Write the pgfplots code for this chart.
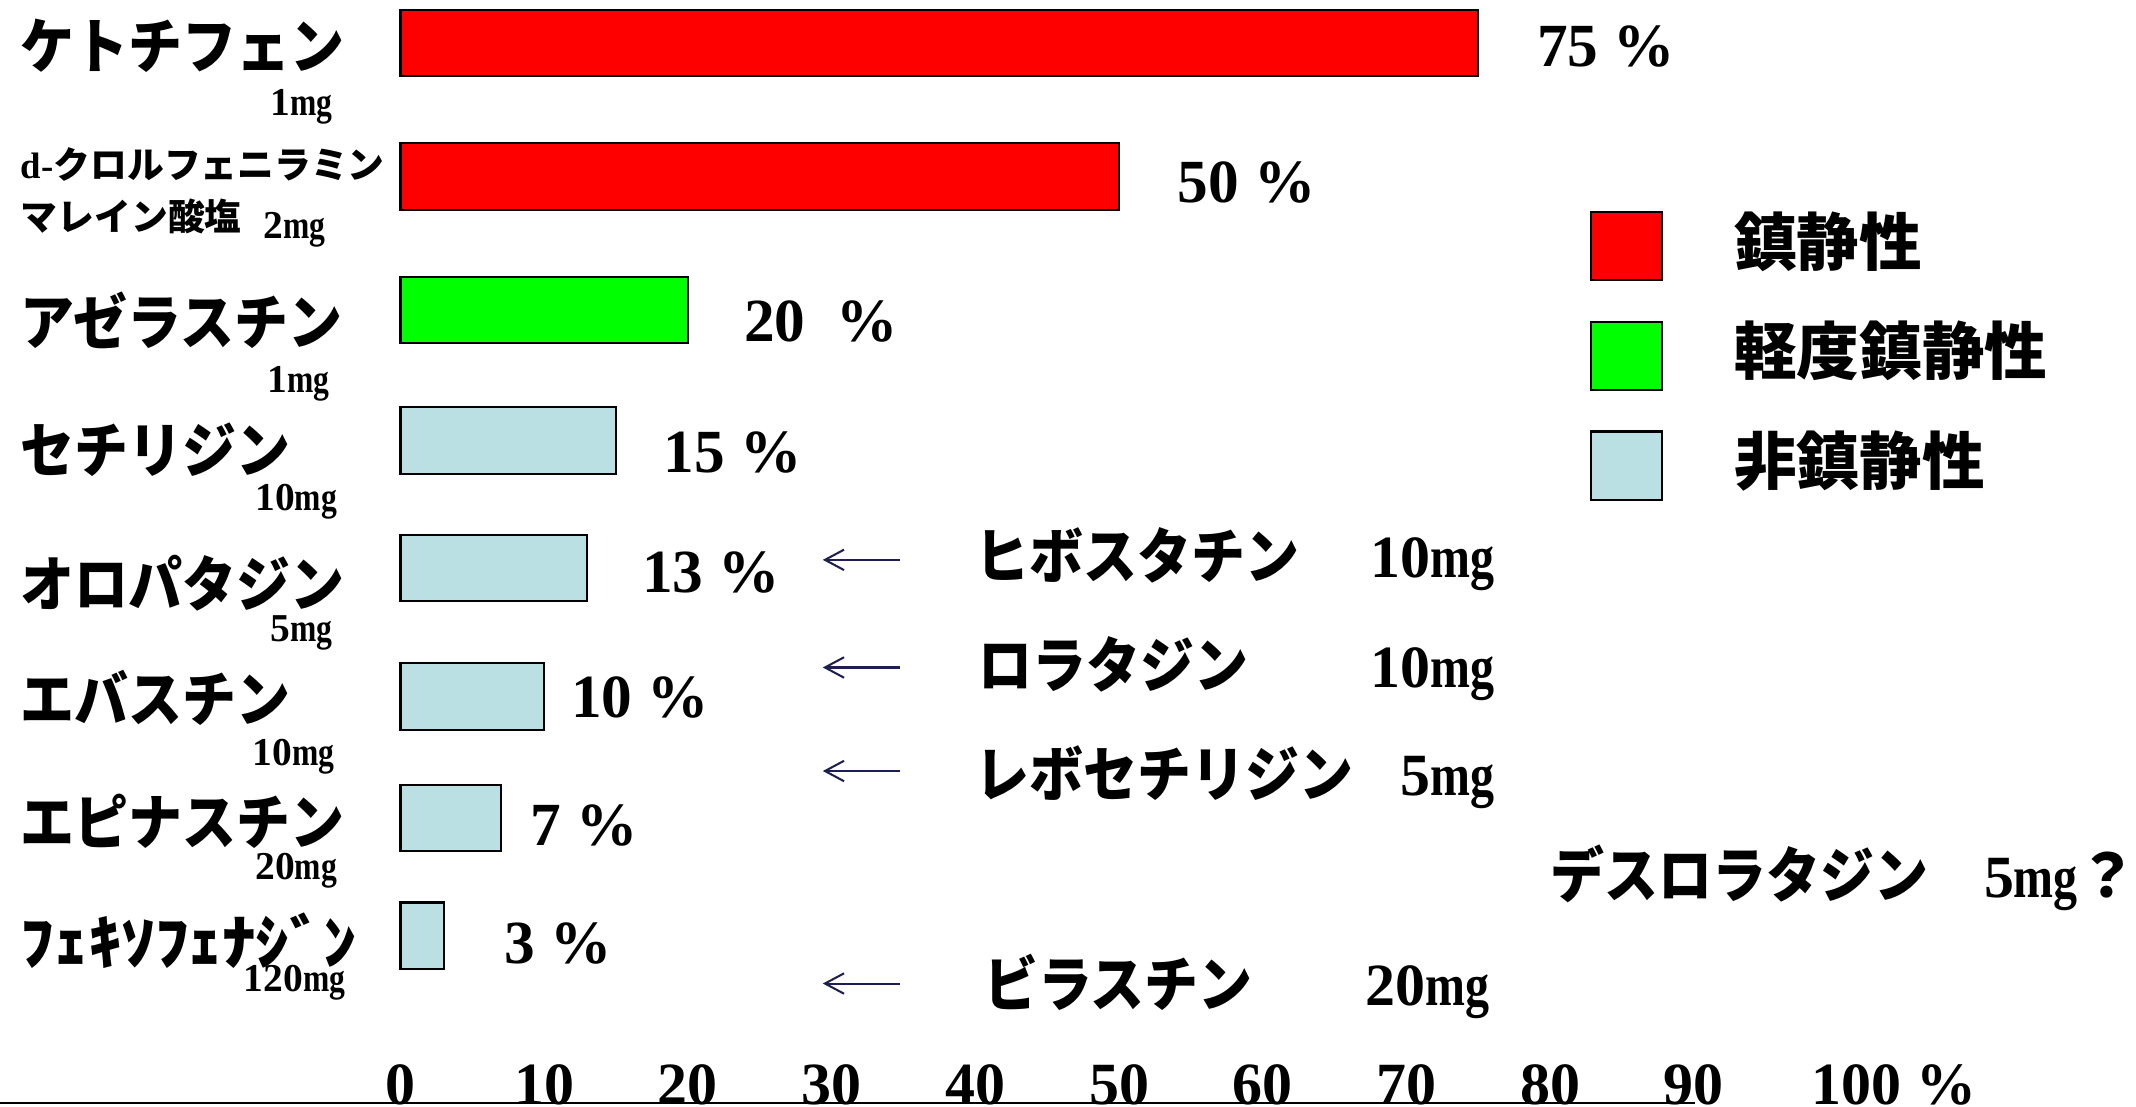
\documentclass[border=0pt]{standalone}
\usepackage{fontspec}
\usepackage{graphicx}
\usepackage{pgfplots}
\pgfplotsset{compat=1.18}
\usetikzlibrary{arrows.meta}
\setmainfont{Liberation Serif}
\newfontfamily\jp{Noto Sans CJK JP}[FakeStretch=0.9]
\newfontfamily\jpw{Noto Sans CJK JP}

\definecolor{sed}{RGB}{255,0,0}
\definecolor{mild}{RGB}{0,255,0}
\definecolor{nonsed}{RGB}{186,224,228}
\definecolor{arrownavy}{RGB}{30,30,80}

\newcommand\mg{\scalebox{0.8}[1]{mg}}
\newcommand\Jbig{\jp\bfseries\fontsize{22}{26}\selectfont}
\newcommand\Jsmall{\jpw\bfseries\fontsize{13.5}{16}\selectfont}
\newcommand\Dose{\bfseries\fontsize{14.5}{16}\selectfont}
\newcommand\Val{\bfseries\fontsize{22.5}{26}\selectfont}
\newcommand\DoseR{\bfseries\fontsize{22}{26}\selectfont}

% square swatch for the legend
\pgfplotsset{swatch/.style={legend image code/.code={%
  \draw[fill=#1,draw=black,line width=0.75pt] (0pt,-14.65pt) rectangle (26pt,10.35pt);}}}

\begin{document}
\begin{tikzpicture}
\begin{axis}[
  at={(0pt,0pt)}, anchor=south west,
  scale only axis, width=784pt, height=406pt,
  xmin=-27.867, xmax=120.76, ymin=0, ymax=812, y dir=reverse,
  axis line style={draw=none}, tick style={draw=none},
  ytick=\empty,
  xtick={0,10,20,30,40,50,60,70,80,90,100},
  xticklabels={0,10,20,30,40,50,60,70,80,90,{\makebox[0pt][l]{\hspace{-9.5pt}100 \%}}},
  xticklabel style={anchor=base, yshift=0.75pt, inner sep=0pt,
    font=\bfseries\fontsize{22}{24}\selectfont},
  clip=false,
  legend cell align=left,
  legend style={at={(axis cs:82.75,151)}, anchor=north west,
    draw=none, fill=none, inner sep=0pt, row sep=12.6pt,
    font=\jpw\bfseries\fontsize{23}{26}\selectfont,
    /tikz/every odd column/.append style={column sep=24pt}},
]
% sedating
\addplot[xbar, bar shift=0pt, bar width=49, fill=sed, draw=black,
  line width=0.75pt, forget plot] coordinates {(75,31.5) (50,129.5)};
% mildly sedating
\addplot[xbar, bar shift=0pt, bar width=49, fill=mild, draw=black,
  line width=0.75pt, forget plot] coordinates {(20,227.5)};
% non-sedating
\addplot[xbar, bar shift=0pt, bar width=49, fill=nonsed, draw=black,
  line width=0.75pt, forget plot] coordinates
  {(15,323.5) (13,417) (10,511.5) (7,600.5) (3,687)};

\addlegendimage{swatch=sed}
\addlegendentry{鎮静性}
\addlegendimage{swatch=mild}
\addlegendentry{軽度鎮静性}
\addlegendimage{swatch=nonsed}
\addlegendentry{非鎮静性}
\end{axis}

\begin{scope}[x=0.5pt, y=-0.5pt, shift={(0pt,406pt)}]
  % baseline rule
  \draw[line width=0.75pt] (0,810) -- (1244,810);

  % drug names with doses
  \node[anchor=base west, inner sep=0pt, font=\Jbig] at (15,50) {ケトチフェン};
  \node[anchor=base west, inner sep=0pt, font=\Dose] at (198,84.5) {1\mg};

  \node[anchor=base west, inner sep=0pt] at (15,131)
    {{\bfseries\fontsize{13.5}{16}\selectfont d-}{\Jsmall クロルフェニラミン}};
  \node[anchor=base west, inner sep=0pt, font=\Jsmall] at (15,169) {マレイン酸塩};
  \node[anchor=base west, inner sep=0pt, font=\Dose] at (193,175) {2\mg};

  \node[anchor=base west, inner sep=0pt, font=\Jbig] at (15,253) {アゼラスチン};
  \node[anchor=base west, inner sep=0pt, font=\Dose] at (196,288) {1\mg};

  \node[anchor=base west, inner sep=0pt, font=\Jbig] at (15,347) {セチリジン};
  \node[anchor=base west, inner sep=0pt, font=\Dose] at (187,374.5) {10\mg};

  \node[anchor=base west, inner sep=0pt, font=\Jbig] at (15,445) {オロパタジン};
  \node[anchor=base west, inner sep=0pt, font=\Dose] at (198,471) {5\mg};

  \node[anchor=base west, inner sep=0pt, font=\Jbig] at (15,530) {エバスチン};
  \node[anchor=base west, inner sep=0pt, font=\Dose] at (185,561.7) {10\mg};

  \node[anchor=base west, inner sep=0pt, font=\Jbig] at (15,620) {エピナスチン};
  \node[anchor=base west, inner sep=0pt, font=\Dose] at (187,646) {20\mg};

  \node[anchor=base west, inner sep=0pt, font=\jpw\bfseries\fontsize{22}{26}\selectfont]
    at (15,708) {\scalebox{1.12}[1]{ﾌｪｷｿﾌｪﾅｼﾞﾝ}};
  \node[anchor=base west, inner sep=0pt, font=\Dose] at (178.6,728) {120\mg};

  % percentages
  \node[anchor=base west, inner sep=0pt, font=\Val] at (1128,49) {75 \%};
  \node[anchor=base west, inner sep=0pt, font=\Val] at (864,149) {50 \%};
  \node[anchor=base west, inner sep=0pt, font=\Val] at (546,251) {20\ \ \%};
  \node[anchor=base west, inner sep=0pt, font=\Val] at (487,347) {15 \%};
  \node[anchor=base west, inner sep=0pt, font=\Val] at (471,435) {13 \%};
  \node[anchor=base west, inner sep=0pt, font=\Val] at (419,527) {10 \%};
  \node[anchor=base west, inner sep=0pt, font=\Val] at (389,621) {7 \%};
  \node[anchor=base west, inner sep=0pt, font=\Val] at (370,707) {3 \%};

  % other non-sedating drugs
  \foreach \yy in {411,490,566,722}
    \draw[arrownavy, line width=0.75pt, -{Straight Barb[length=7pt,width=7.5pt]}]
      (661,\yy) -- (604,\yy);
  \node[anchor=base west, inner sep=0pt, font=\Jbig] at (716,425) {ヒボスタチン};
  \node[anchor=base west, inner sep=0pt, font=\DoseR] at (1006,424) {10\mg};
  \node[anchor=base west, inner sep=0pt, font=\Jbig] at (718,505) {ロラタジン};
  \node[anchor=base west, inner sep=0pt, font=\DoseR] at (1006,505) {10\mg};
  \node[anchor=base west, inner sep=0pt, font=\Jbig] at (716,585) {レボセチリジン};
  \node[anchor=base west, inner sep=0pt, font=\DoseR] at (1028,584) {5\mg};
  \node[anchor=base west, inner sep=0pt, font=\Jbig] at (1138,659) {デスロラタジン};
  \node[anchor=base west, inner sep=0pt, font=\DoseR] at (1456,659) {5\mg{\jpw ？}};
  \node[anchor=base west, inner sep=0pt, font=\Jbig] at (722,739) {ビラスチン};
  \node[anchor=base west, inner sep=0pt, font=\DoseR] at (1002,738) {20\mg};
\end{scope}

\pgfresetboundingbox
\path (0pt,0pt) rectangle (784pt,406pt);
\end{tikzpicture}
\end{document}
